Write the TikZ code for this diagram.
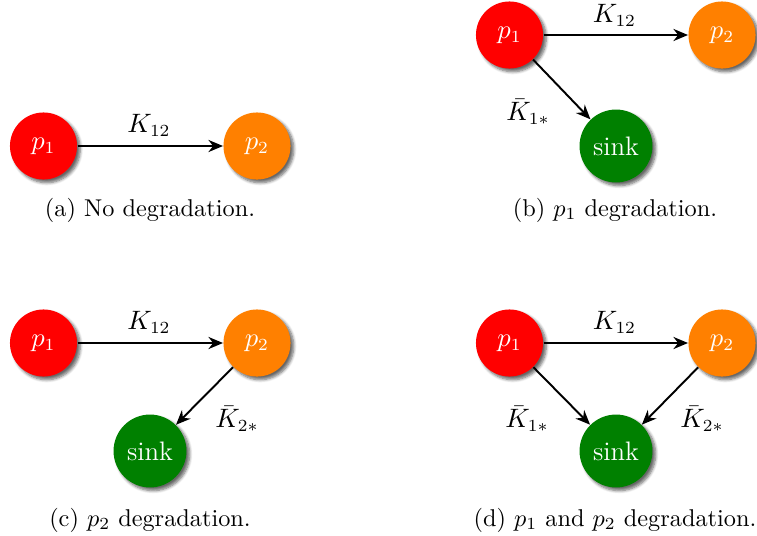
\documentclass[tikz,border=0pt]{standalone}
\usetikzlibrary{shadows,shadows.blur,arrows.meta}
\definecolor{porange}{rgb}{1,0.5,0}
\definecolor{pgreen}{rgb}{0,0.5,0}
\begin{document}
\begin{tikzpicture}[x=0.4115pt,y=-0.4115pt,
  species/.style={circle, inner sep=0pt, text=white, font=\fontsize{10.5}{12}\selectfont,
    blur shadow={shadow xshift=1.3pt, shadow yshift=-1.3pt, shadow blur steps=6, shadow blur radius=1.2pt, shadow opacity=60}},
  pone/.style={species, fill=red, minimum size=27.6pt},
  ptwo/.style={species, fill=porange, minimum size=27.6pt},
  sinknode/.style={species, fill=pgreen, minimum size=30pt, font=\fontsize{11}{13}\selectfont},
  rate/.style={thick, -{Stealth[length=6pt,width=5pt]}},
  ratelabel/.style={font=\fontsize{10.5}{12}\selectfont, inner sep=0pt},
  subcap/.style={font=\fontsize{10}{12}\selectfont, inner sep=0pt}]
\path[use as bounding box] (0,0) rectangle (757,535);

% (a)
\node[pone] (a1) at (43.5,146) {$p_1$};
\node[ptwo] (a2) at (257,146) {$p_2$};
\draw[rate] (a1) -- (a2);
\node[ratelabel] (ak) at (149,125) {$K_{12}$};
\node[subcap] (acap) at (150,210) {(a) No degradation.};

% (b)
\node[pone] (b1) at (509.5,35) {$p_1$};
\node[ptwo] (b2) at (722,35) {$p_2$};
\node[sinknode] (bs) at (616,146) {sink};
\draw[rate] (b1) -- (b2);
\draw[rate] (b1) -- (bs);
\node[ratelabel] (bk) at (614.5,15) {$K_{12}$};
\node[ratelabel] (bk1) at (528,112) {$\bar{K}_{1*}$};
\node[subcap] (bcap) at (615,210) {(b) $p_1$ degradation.};

% (c)
\node[pone] (c1) at (43.5,343) {$p_1$};
\node[ptwo] (c2) at (257,343) {$p_2$};
\node[sinknode] (cs) at (150,451) {sink};
\draw[rate] (c1) -- (c2);
\draw[rate] (c2) -- (cs);
\node[ratelabel] (ck) at (149,322) {$K_{12}$};
\node[ratelabel] (ck2) at (237,419) {$\bar{K}_{2*}$};
\node[subcap] (ccap) at (150,520) {(c) $p_2$ degradation.};

% (d)
\node[pone] (d1) at (509.5,343) {$p_1$};
\node[ptwo] (d2) at (722,343) {$p_2$};
\node[sinknode] (ds) at (616,451) {sink};
\draw[rate] (d1) -- (d2);
\draw[rate] (d1) -- (ds);
\draw[rate] (d2) -- (ds);
\node[ratelabel] (dk) at (614.5,322) {$K_{12}$};
\node[ratelabel] (dk1) at (527,419) {$\bar{K}_{1*}$};
\node[ratelabel] (dk2) at (702,419) {$\bar{K}_{2*}$};
\node[subcap] (dcap) at (615,520) {(d) $p_1$ and $p_2$ degradation.};
\end{tikzpicture}
\end{document}
